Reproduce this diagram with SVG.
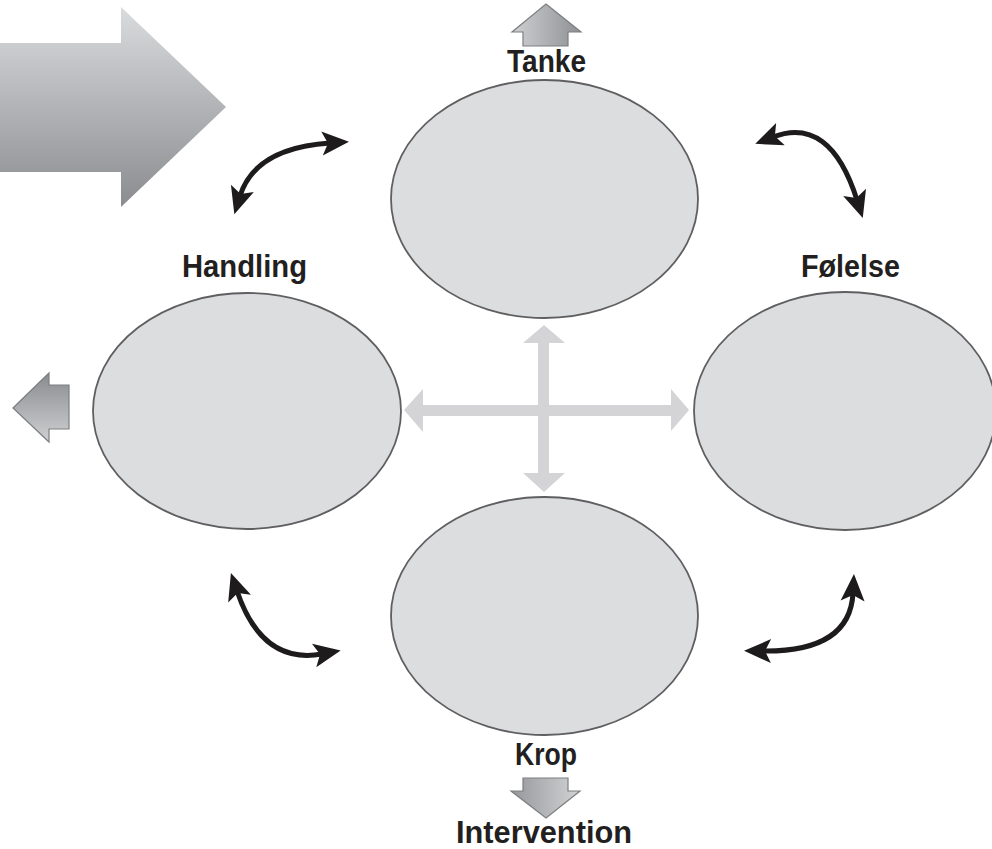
<svg xmlns="http://www.w3.org/2000/svg" width="992" height="849" viewBox="0 0 992 849">
<style>
.node ellipse{fill:#dcdddf;stroke:#5f5f61;stroke-width:1.8}
.lbl{font-family:"Liberation Sans",Arial,sans-serif;font-weight:bold;font-size:32px;fill:#231f20;text-anchor:start}
.cross{fill:#d4d4d6}
.curve{fill:none;stroke:#1e1b1c;stroke-width:5;marker-start:url(#ah);marker-end:url(#ah)}
.garrow{stroke:#7d7e80;stroke-width:1.2}
</style>
<defs>
<marker id="ah" markerUnits="userSpaceOnUse" orient="auto-start-reverse" refX="0" refY="0" markerWidth="60" markerHeight="60" viewBox="-30 -30 60 60" overflow="visible">
<path d="M 19 0 L -8 -12 L -2 0 L -8 12 Z" fill="#1e1b1c"/>
</marker>
<linearGradient id="gBig" x1="0" y1="0" x2="0" y2="1">
<stop offset="0" stop-color="#dadbdd"/>
<stop offset="1" stop-color="#8b8c8f"/>
</linearGradient>
<linearGradient id="gUp" x1="0" y1="0" x2="1" y2="0">
<stop offset="0" stop-color="#cfd0d2"/>
<stop offset="1" stop-color="#8f9093"/>
</linearGradient>
<linearGradient id="gLeft" x1="0" y1="0" x2="0" y2="1">
<stop offset="0" stop-color="#8a8b8e"/>
<stop offset="1" stop-color="#cfd0d2"/>
</linearGradient>
<linearGradient id="gDown" x1="0" y1="0" x2="1" y2="0">
<stop offset="0" stop-color="#96979a"/>
<stop offset="1" stop-color="#d2d3d5"/>
</linearGradient>
</defs>

<g id="big-arrow">
<polygon points="0,43 121,43 121,7 226,107 121,207 121,172 0,172" fill="url(#gBig)"/>
</g>

<g id="cross">
<polygon class="cross" points="544,325 565,343 549,343 549,405 671,405 671,389 689,410 671,431 671,416 549,416 549,473 565,473 544,492 523,473 538,473 538,416 423,416 423,432 404,410 423,389 423,405 538,405 538,343 523,343"/>
</g>

<g id="node-tanke" class="node">
<ellipse cx="544.5" cy="199" rx="153.5" ry="119"/>
<polygon class="garrow" points="546,4 581,32 568,32 568,46 523,46 523,32 512,32" fill="url(#gUp)"/>
<text class="lbl" x="507" y="72" textLength="79" lengthAdjust="spacingAndGlyphs">Tanke</text>
</g>

<g id="node-handling" class="node">
<ellipse cx="247" cy="411" rx="154" ry="118"/>
<polygon class="garrow" points="13,408 49,373 49,385 69,385 69,429 49,429 49,442" fill="url(#gLeft)"/>
<text class="lbl" x="182" y="277" textLength="125" lengthAdjust="spacingAndGlyphs">Handling</text>
</g>

<g id="node-folelse" class="node">
<ellipse cx="845" cy="411" rx="151" ry="119"/>
<text class="lbl" x="801" y="277" textLength="99" lengthAdjust="spacingAndGlyphs">Følelse</text>
</g>

<g id="node-krop" class="node">
<ellipse cx="544.5" cy="616" rx="153.5" ry="119"/>
<text class="lbl" x="515" y="765" textLength="62" lengthAdjust="spacingAndGlyphs">Krop</text>
<polygon class="garrow" points="523,778 568,778 568,791 580,791 546,818 511,791 523,791" fill="url(#gDown)"/>
<text class="lbl" x="456" y="843" textLength="176" lengthAdjust="spacingAndGlyphs">Intervention</text>
</g>

<g id="connectors">
<path class="curve" d="M 330 143 Q 255 148 240 196"/>
<path class="curve" d="M 773 137 Q 830 115 857 200"/>
<path class="curve" d="M 237 591 Q 262 665 322 654"/>
<path class="curve" d="M 853 593 Q 850 652 763 651"/>
</g>
</svg>
